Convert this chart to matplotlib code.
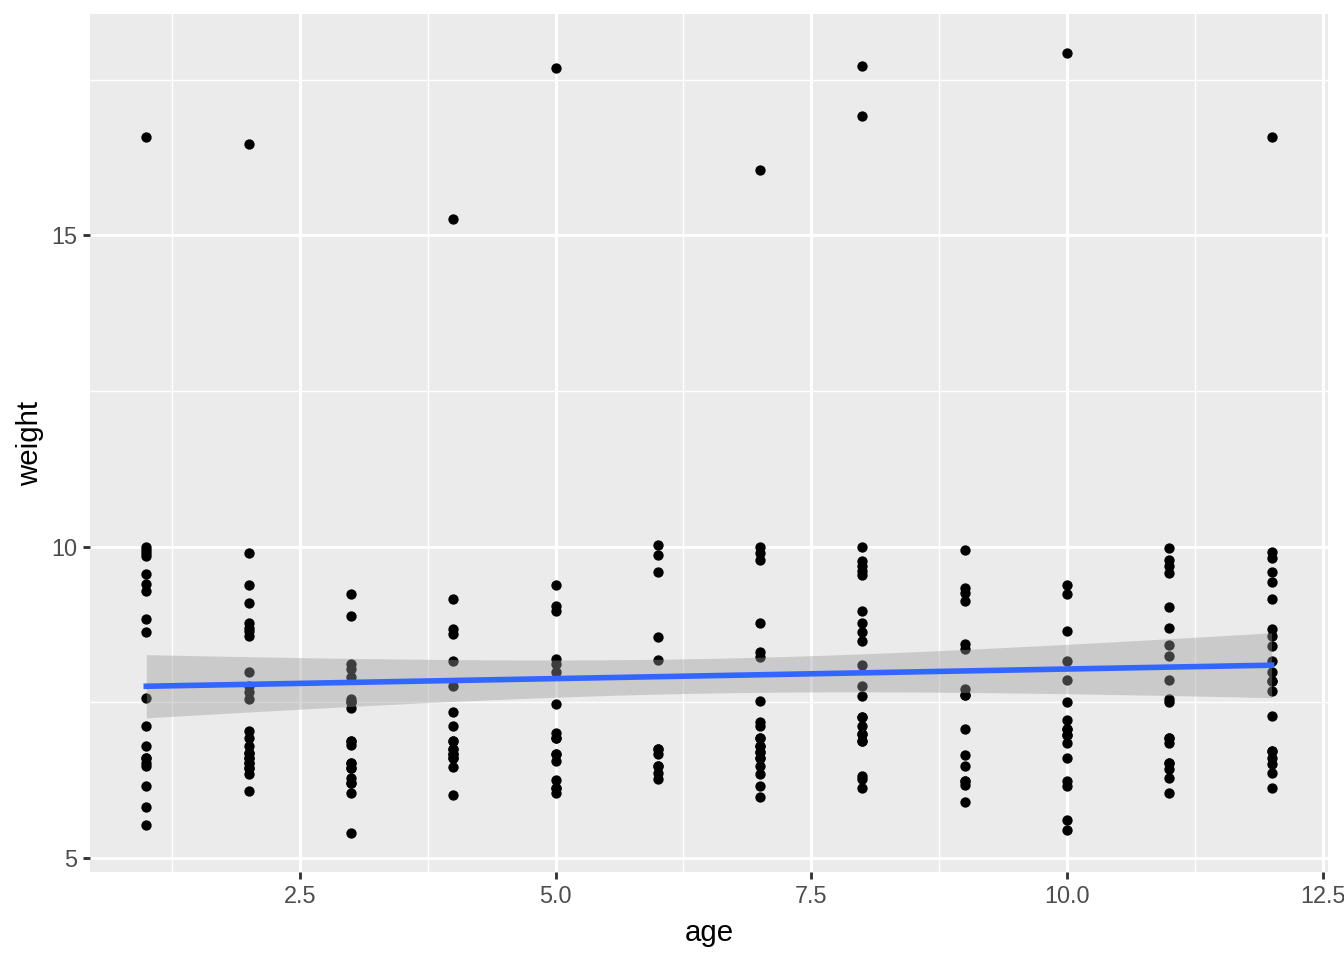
import numpy as np
import matplotlib
matplotlib.use("Agg")
import matplotlib.pyplot as plt
from matplotlib.ticker import MultipleLocator

plt.rcParams["font.family"] = ["Liberation Sans", "DejaVu Sans"]

# weights, one list per age (overlapping dots repeated)
w_age1 = [16.57, 10.0, 9.95, 9.9, 9.85, 9.56, 9.40, 9.28, 8.83, 8.63, 7.56, 7.12,
          6.80, 6.61, 6.53, 6.47, 6.16, 5.82, 5.53,
          6.61]
w_age2 = [16.47, 9.89, 9.39, 9.09, 8.78, 8.70, 8.64, 8.57, 7.99, 7.76, 7.66, 7.55,
          7.04, 6.93, 6.80, 6.69, 6.61, 6.53, 6.45, 6.35, 6.07,
          6.69, 6.61, 6.53, 6.45]
w_age3 = [9.23, 8.89, 8.11, 8.03, 7.91, 7.55, 7.50, 7.40, 6.88, 6.81, 6.53, 6.45,
          6.29, 6.20, 6.04, 5.40,
          6.53, 6.45, 6.20, 7.50, 6.88]
w_age4 = [15.26, 9.15, 8.67, 8.59, 8.16, 7.76, 7.34, 7.12, 6.88, 6.75, 6.67, 6.61,
          6.46, 6.01,
          6.75, 6.67, 6.61, 6.88]
w_age5 = [17.68, 9.38, 9.05, 8.96, 8.19, 8.11, 7.99, 7.47, 7.01, 6.93, 6.67, 6.56,
          6.25, 6.13, 6.05,
          6.93, 6.67, 6.13]
w_age6 = [10.02, 9.87, 9.59, 8.55, 8.18, 6.75, 6.67, 6.47, 6.37, 6.27,
          6.75, 6.47]
w_age7 = [16.04, 10.0, 9.89, 9.79, 8.77, 8.31, 8.22, 7.52, 7.18, 7.12, 6.92, 6.80,
          6.70, 6.61, 6.48, 6.35, 6.16, 5.98,
          6.92, 6.80, 6.70, 6.61]
w_age8 = [17.71, 16.91, 10.0, 9.76, 9.68, 9.60, 9.54, 8.96, 8.78, 8.62, 8.48, 8.10,
          7.76, 7.60, 7.27, 7.12, 6.99, 6.88, 6.32, 6.27, 6.12,
          6.99, 6.88, 7.27]
w_age9 = [9.94, 9.34, 9.26, 9.12, 8.43, 8.36, 7.71, 7.61, 7.07, 6.66, 6.47, 6.23,
          6.17, 5.90,
          6.23, 7.61]
w_age10 = [17.92, 9.38, 9.23, 8.64, 8.16, 7.85, 7.51, 7.22, 7.07, 6.97, 6.85, 6.61,
           6.24, 6.15, 5.61, 5.44,
           7.07, 6.97]
w_age11 = [9.98, 9.79, 9.68, 9.58, 9.03, 8.69, 8.42, 8.25, 7.85, 7.55, 7.50, 6.92,
           6.85, 6.53, 6.42, 6.28, 6.04,
           6.92, 6.53]
w_age12 = [16.57, 9.91, 9.82, 9.59, 9.43, 9.15, 8.67, 8.56, 8.41, 8.16, 7.98, 7.84,
           7.68, 7.28, 6.72, 6.61, 6.51, 6.36, 6.12,
           6.72, 7.84]

groups = [w_age1, w_age2, w_age3, w_age4, w_age5, w_age6,
          w_age7, w_age8, w_age9, w_age10, w_age11, w_age12]
age = np.concatenate([np.full(len(g), i + 1) for i, g in enumerate(groups)]).astype(float)
weight = np.concatenate([np.array(g) for g in groups])

# linear fit + 95% confidence band (like geom_smooth(method="lm"))
n = len(age)
slope, intercept = np.polyfit(age, weight, 1)
resid = weight - (intercept + slope * age)
s = np.sqrt(np.sum(resid ** 2) / (n - 2))
xbar = age.mean()
sxx = np.sum((age - xbar) ** 2)
xs = np.linspace(age.min(), age.max(), 80)
ys = intercept + slope * xs
se = s * np.sqrt(1.0 / n + (xs - xbar) ** 2 / sxx)
tq = 1.97
lo, hi = ys - tq * se, ys + tq * se

fig = plt.figure(figsize=(7, 5), dpi=192)
ax = fig.add_axes([0.067, 0.0917, 0.921, 0.8933])
ax.set_facecolor("#EBEBEB")

ax.scatter(age, weight, s=15, color="black", linewidths=0, zorder=2)
ax.fill_between(xs, lo, hi, color="#999999", alpha=0.4, linewidth=0, zorder=3)
ax.plot(xs, ys, color="#3366FF", linewidth=2.1, zorder=4)

xr = age.max() - age.min()
yr = weight.max() - weight.min()
ax.set_xlim(age.min() - 0.05 * xr, age.max() + 0.05 * xr)
ax.set_ylim(weight.min() - 0.05 * yr, weight.max() + 0.05 * yr)

ax.xaxis.set_minor_locator(MultipleLocator(1.25))
ax.yaxis.set_minor_locator(MultipleLocator(2.5))
ax.set_xticks([2.5, 5.0, 7.5, 10.0, 12.5])
ax.set_xticklabels(["2.5", "5.0", "7.5", "10.0", "12.5"])
ax.set_yticks([5, 10, 15])

ax.grid(which="major", color="white", linewidth=1.07, zorder=0)
ax.grid(which="minor", color="white", linewidth=0.53, zorder=0)
ax.set_axisbelow(True)

for sp in ax.spines.values():
    sp.set_visible(False)

ax.tick_params(which="major", length=2.75, width=1.07, color="#333333",
               labelsize=8.8, labelcolor="#4D4D4D", pad=2.2)
ax.tick_params(which="minor", length=0)

ax.set_xlabel("age", fontsize=11, color="black", labelpad=4)
ax.set_ylabel("weight", fontsize=11, color="black", labelpad=2.5)

fig.savefig("out.png", dpi=192, facecolor="white")
